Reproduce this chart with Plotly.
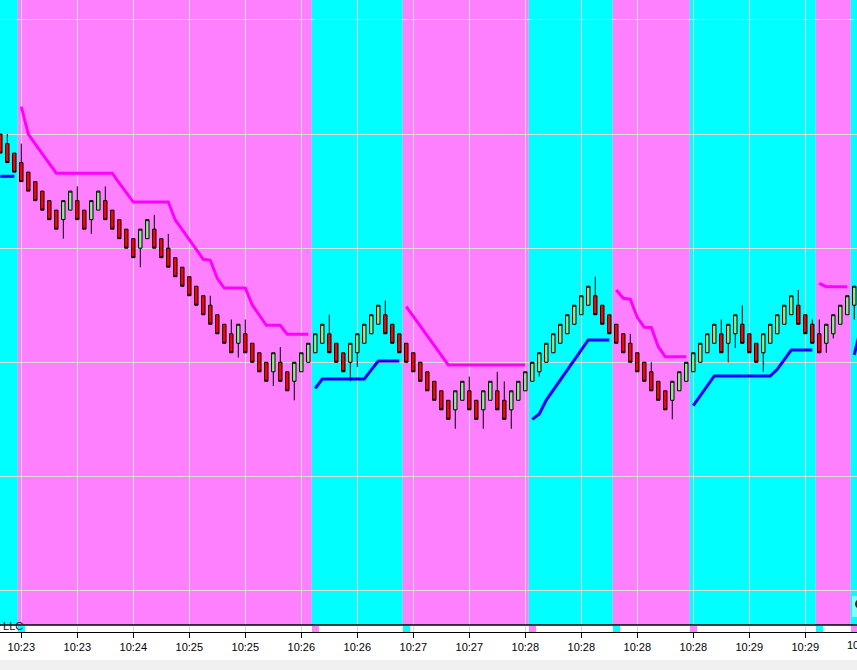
import plotly.graph_objects as go

# ---------------- data ----------------
open_ = [24, 23, 22, 21, 20, 19, 18, 17, 16, 15, 16, 17, 16, 15, 16, 17, 16, 15, 14, 13,
         12, 13, 14, 13, 12, 11, 10, 9, 8, 7, 6, 5, 4, 3, 2, 3, 2, 1, 0, -1,
         0, -1, -2, -1, 0, 1, 2, 3, 2, 1, 0, 1, 2, 3, 4, 5, 4, 3, 2, 1,
         0, -1, -2, -3, -4, -5, -4, -3, -4, -5, -4, -3, -4, -5, -4, -3, -2, -1, 0, 1,
         2, 3, 4, 5, 6, 7, 6, 5, 4, 3, 2, 1, 0, -1, -2, -3, -4, -3, -2, -1,
         0, 1, 2, 3, 2, 3, 4, 3, 2, 1, 2, 3, 4, 5, 6, 5, 4, 3, 2, 3,
         4, 5, 6]
high = [24, 24, 22, 23, 20, 19, 18, 17, 16, 17, 18, 18.5, 16, 17, 18, 18.5, 16, 15, 14, 13,
        14, 15, 15.5, 13, 13.5, 11, 10, 9, 8, 7, 7, 5, 4, 4.5, 4, 4.5, 2, 1, 0, 1,
        1.6, -1, 0, 1, 2, 3, 4, 5, 2, 1, 2, 3, 4, 5, 6, 6.5, 4, 3, 2, 1,
        0, -1, -2, -3, -4, -3, -2, -1.5, -4, -3, -2, -1, -2, -3, -2, -1, 0, 1, 2, 3,
        4, 5, 6, 7, 8, 9, 6, 5, 4, 3, 3, 1, 0, 0, -2, -3, -2, -1, 0, 1,
        2, 3, 4, 4.5, 4, 5, 6, 3, 2, 3, 4, 5, 6, 7, 7.6, 5, 4.5, 4.5, 4, 5,
        6, 7, 8]
low = [22, 21, 20, 19, 18, 17, 16, 15, 14, 13, 16, 15, 14, 13.5, 16, 15, 14, 13, 12, 11,
       10, 13, 12, 11, 10, 9, 8, 7, 6, 5, 4, 3, 2, 1, 0.5, 1, 0, -1, -2, -2.5,
       -2, -3, -4, -1, 0, 1, 2, 1, 0, -1, -2, -0.5, 2, 3, 4, 3, 2, 1, 0, -1,
       -2, -3, -4, -5, -6, -7, -4, -5, -6, -7, -4, -5, -6, -7, -4, -3, -2, -1.5, 0, 1,
       2, 3, 4, 5, 6, 5, 4, 3, 2, 1, 0, -1, -2, -3, -4, -5, -6, -3, -2, -1,
       0, 1, 2, 1, 0, 1.5, 2, 1, 0, -1, 2, 3, 4, 5, 4, 3, 2, 1, 1, 2.5,
       4, 5, 4.5]
close = [22, 21, 20, 19, 18, 17, 16, 15, 14, 17, 18, 15, 14, 17, 18, 15, 14, 13, 12, 11,
         14, 15, 12, 11, 10, 9, 8, 7, 6, 5, 4, 3, 2, 1, 4, 1, 0, -1, -2, 1,
         -2, -3, 0, 1, 2, 3, 4, 1, 0, -1, 2, 3, 4, 5, 6, 3, 2, 1, 0, -1,
         -2, -3, -4, -5, -6, -3, -2, -5, -6, -3, -2, -5, -6, -3, -2, -1, 0, 1, 2, 3,
         4, 5, 6, 7, 8, 5, 4, 3, 2, 1, 0, -1, -2, -3, -4, -5, -2, -1, 0, 1,
         2, 3, 4, 1, 4, 5, 2, 1, 0, 3, 4, 5, 6, 7, 4, 3, 2, 1, 4, 5,
         6, 7, 8]

N = None
upper_stop = ([N, N, N, 26.88, 24.0, 22.95, 21.9, 20.9] + [19.88] * 9 +
              [18.85, 17.85] + [16.85] * 6 +
              [14.97, 13.93, 12.9, 11.87, 10.83, 10.73, 8.83] + [7.8] * 4 +
              [6.03, 4.96] + [3.89] * 3 + [2.94] * 4 +
              [N] * 13 +
              [5.85, 4.83, 3.8, 2.78, 1.76, 0.74] + [-0.28] * 12 +
              [N] * 12 +
              [7.6, 6.73, 6.63, 4.73, 3.68, 3.65, 1.64] + [0.59] * 4 +
              [N] * 18 +
              [8.3] + [7.95] * 4 +
              [N, N])
lower_stop = ([19.56] * 3 + [N] * 42 +
              [-2.74] + [-1.76] * 7 + [-0.8] + [0.14] * 4 +
              [N] * 18 +
              [-6.0, -5.44, -3.97, -2.92, -1.86, -0.81, 0.24, 1.3] + [2.35] * 4 +
              [N] * 11 +
              [-4.56, -3.52, -2.48] + [-1.44] * 9 + [-0.74, 0.28] + [1.29] * 4 +
              [N] * 5 +
              [0.77, 3.8])

# trend regions (bar index boundaries) and their colours
region_edges = [-1, 2.5, 44.5, 57.5, 75.5, 87.5, 98.5, 116.5, 121.5, 124]
region_colors = ["#00FFFF", "#FF80FF", "#00FFFF", "#FF80FF", "#00FFFF",
                 "#FF80FF", "#00FFFF", "#FF80FF", "#00FFFF"]

# trend-change markers in the lower strip
signal_bars = [3, 45, 58, 76, 88, 99, 117, 122]
signal_colors = ["#00FFFF", "#FF80FF", "#00FFFF", "#FF80FF",
                 "#00FFFF", "#FF80FF", "#00FFFF", "#FF80FF"]

tick_bars = [3, 11, 19, 27, 35, 43, 51, 59, 67, 75, 83, 91, 99, 107, 115]
tick_labels = ["10:23", "10:23", "10:24", "10:25", "10:25", "10:26", "10:26",
               "10:27", "10:27", "10:28", "10:28", "10:28", "10:28", "10:29", "10:29"]

# ---------------- figure ----------------
W, H = 857, 670
B = 38
plot_h = H - B
main_bottom = 7 / plot_h  # main panel ends 7px above the axis line

bars = list(range(len(open_)))
fig = go.Figure()

fig.add_trace(go.Candlestick(
    x=bars, open=open_, high=high, low=low, close=close,
    increasing=dict(fillcolor="#90EE90", line=dict(color="black", width=1)),
    decreasing=dict(fillcolor="#FF0000", line=dict(color="black", width=1)),
    whiskerwidth=0, xaxis="x", yaxis="y", showlegend=False, hoverinfo="skip"))

fig.add_trace(go.Scatter(
    x=list(range(len(upper_stop))), y=upper_stop, mode="lines",
    line=dict(color="#FF00FF", width=3), connectgaps=False,
    xaxis="x", yaxis="y", showlegend=False, hoverinfo="skip"))
fig.add_trace(go.Scatter(
    x=list(range(len(lower_stop))), y=lower_stop, mode="lines",
    line=dict(color="#0000FF", width=3), connectgaps=False,
    xaxis="x", yaxis="y", showlegend=False, hoverinfo="skip"))

fig.add_trace(go.Bar(
    x=signal_bars, y=[1] * len(signal_bars), width=1,
    marker=dict(color=signal_colors, line=dict(width=0)),
    xaxis="x", yaxis="y2", showlegend=False, hoverinfo="skip"))

shapes = []
for i, col in enumerate(region_colors):
    shapes.append(dict(type="rect", xref="x", yref="y domain",
                       x0=region_edges[i], x1=region_edges[i + 1], y0=0, y1=1,
                       fillcolor=col, line=dict(width=0), layer="below"))
# separator between main panel and strip
shapes.append(dict(type="line", xref="paper", yref="y domain", x0=0, x1=1, y0=0, y1=0,
                   line=dict(color="black", width=1.3), layer="above"))
# grey footer band
shapes.append(dict(type="rect", xref="paper", yref="paper", x0=-0.01, x1=1.01,
                   y0=-(H - 10 - plot_h) / plot_h, y1=-B / plot_h - 0.01,
                   fillcolor="#F0F0F0", line=dict(width=0), layer="above"))
# small panel button at the right edge
shapes.append(dict(type="rect", xref="paper", yref="paper",
                   x0=852 / W, x1=1.0, y0=(plot_h - 617) / plot_h, y1=(plot_h - 596) / plot_h,
                   fillcolor="rgba(255,255,255,0.5)", line=dict(width=0), layer="above"))
shapes.append(dict(type="circle", xref="paper", yref="paper",
                   x0=855 / W, x1=865 / W, y0=(plot_h - 609) / plot_h, y1=(plot_h - 599) / plot_h,
                   fillcolor="#3a2a10", line=dict(width=0), layer="above"))

fig.update_layout(
    width=W, height=H,
    margin=dict(l=0, r=0, t=0, b=B),
    paper_bgcolor="white", plot_bgcolor="white",
    showlegend=False,
    bargap=0,
    shapes=shapes,
    xaxis=dict(
        anchor="y2", range=[-0.043, 122.39],
        tickmode="array", tickvals=tick_bars, ticktext=tick_labels,
        ticks="outside", ticklen=5, tickcolor="black", tickwidth=1,
        showline=True, linecolor="black", linewidth=1,
        showgrid=True, gridcolor="#DCDCDC", gridwidth=1,
        zeroline=False, rangeslider=dict(visible=False),
        tickfont=dict(family="Liberation Sans, Arial", size=11, color="black"),
    ),
    yaxis=dict(
        domain=[main_bottom, 1], anchor="x",
        range=[-27.63, 38.1], tick0=0, dtick=12,
        showgrid=True, gridcolor="#DCDCDC", gridwidth=1,
        showticklabels=False, ticks="", zeroline=False, showline=False,
    ),
    yaxis2=dict(
        domain=[0, 6 / plot_h], anchor="x", range=[0, 1],
        showgrid=False, showticklabels=False, ticks="", zeroline=False, showline=False,
    ),
    annotations=[
        dict(text=", LLC", xref="paper", yref="paper", x=25 / W, y=(plot_h - 626) / plot_h,
             xanchor="right", yanchor="middle", showarrow=False,
             font=dict(family="Liberation Sans, Arial", size=11, color="#101030")),
        dict(text="10:30", xref="paper", yref="paper", x=861.3 / W, y=-13 / plot_h,
             xanchor="center", yanchor="middle", showarrow=False,
             font=dict(family="Liberation Sans, Arial", size=11, color="black")),
    ],
)

fig.write_html(
    "out.html",
    config={"displayModeBar": False},
    post_script="document.body.style.margin='0';document.body.style.padding='0';"
                "document.body.style.overflow='hidden';",
)
